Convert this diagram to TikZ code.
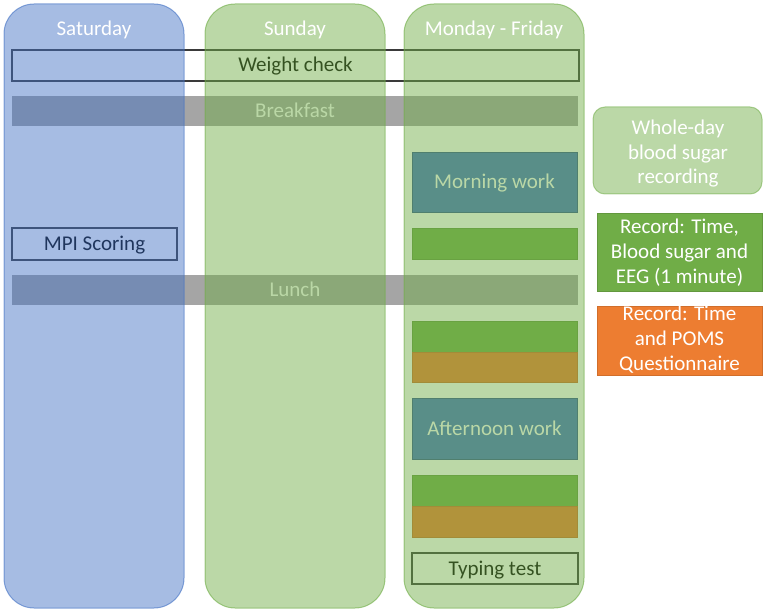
\documentclass[tikz,border=0pt]{standalone}
\usepackage{fontspec}
\setmainfont{Carlito}
\definecolor{blueA}{HTML}{4472C4}
\definecolor{greenA}{HTML}{70AD47}
\definecolor{orangeA}{HTML}{ED7D31}
\definecolor{grayA}{HTML}{A5A5A5}
\definecolor{outlineA}{HTML}{3A3A3A}
\begin{document}
\begin{tikzpicture}[x=1pt,y=-1pt,
  every node/.style={font=\fontsize{21}{25}\selectfont},
  blk/.style={anchor=north west, inner sep=0pt, outer sep=0pt, text height=14.5pt, text depth=1.5pt},
  bandbox/.style={blk, fill=grayA, text=white, minimum width=566pt, minimum height=30pt},
  framebox/.style={blk, draw=outlineA, line width=1.4pt, text=black},
  bluebox/.style={blk, fill=blueA, draw=blueA!75!black, line width=0.8pt, text=white, minimum width=165pt},
  greenbox/.style={blk, fill=greenA, draw=greenA!88!black, line width=0.8pt, minimum width=165pt, minimum height=31pt},
  orangebox/.style={blk, fill=orangeA, draw=orangeA!88!black, line width=0.8pt, minimum width=165pt, minimum height=30pt},
  column/.style={blk, rounded corners=30pt, minimum width=180pt, minimum height=604pt,
    fill opacity=0.48, draw opacity=0.62, line width=1pt},
  header/.style={text=white, inner sep=0pt, text height=14.5pt, text depth=1.5pt},
  legline/.style={text=white, anchor=base, inner sep=0pt}
]
\useasboundingbox (0,0) rectangle (765,612);

% items below the translucent day columns
\node[framebox, minimum width=567pt, minimum height=31pt] (weight) at (12,50) {Weight check};
\node[bandbox] (breakfast) at (12,96) {Breakfast};
\node[framebox, minimum width=165pt, minimum height=32pt] (mpi) at (12,228) {MPI Scoring};
\node[bandbox] (lunch) at (12,275) {Lunch};

\node[bluebox, minimum height=60pt] (morning) at (412,152) {Morning work};
\node[greenbox] (g1) at (412,228) {};
\node[greenbox] (g2) at (412,321) {};
\node[orangebox] (o2) at (412,352) {};
\node[bluebox, minimum height=61pt] (afternoon) at (412,398) {Afternoon work};
\node[greenbox] (g3) at (412,475) {};
\node[orangebox, minimum height=31pt] (o3) at (412,506) {};
\node[framebox, minimum width=166pt, minimum height=31pt] (typing) at (412,553) {Typing test};

% day columns
\node[column, fill=blueA, draw=blueA] (sat) at (4,4) {};
\node[column, fill=greenA, draw=greenA] (sun) at (205,4) {};
\node[column, fill=greenA, draw=greenA] (mf) at (404,4) {};

\node[header] (hsat) at (94,29.2) {Saturday};
\node[header] (hsun) at (295,29.2) {Sunday};
\node[header] (hmf) at (494,29.2) {Monday - Friday};

% legend
\node[blk, rounded corners=12pt, minimum width=169pt, minimum height=87pt,
  fill=greenA, fill opacity=0.48, draw=greenA, draw opacity=0.55, line width=1pt] (whole) at (593,107) {};
\node[legline] (w1) at (678,134.3) {Whole-day};
\node[legline] (w2) at (678,159.3) {blood sugar};
\node[legline] (w3) at (678,184.0) {recording};

\node[blk, fill=greenA, draw=greenA!88!black, line width=0.8pt, minimum width=165pt, minimum height=78pt] (recg) at (597,213) {};
\node[legline] (r1) at (recg.center |- 0,233.3) {Record: Time,};
\node[legline] (r2) at (recg.center |- 0,258.3) {Blood sugar and};
\node[legline] (r3) at (recg.center |- 0,283.3) {EEG (1 minute)};

\node[blk, fill=orangeA, draw=orangeA!88!black, line width=0.8pt, minimum width=165pt, minimum height=69pt] (reco) at (597,306) {};
\node[legline] (p1) at (reco.center |- 0,320.7) {Record: Time};
\node[legline] (p2) at (reco.center |- 0,345.7) {and POMS};
\node[legline] (p3) at (reco.center |- 0,370.7) {Questionnaire};
\end{tikzpicture}
\end{document}
